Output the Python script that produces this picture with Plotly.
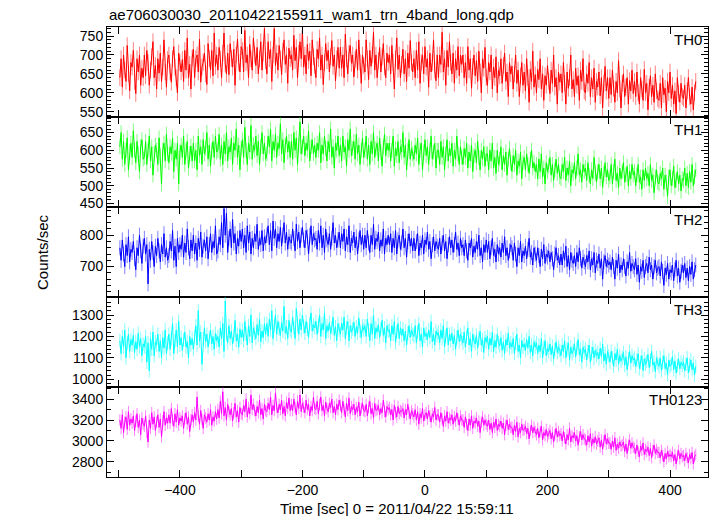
import plotly.graph_objects as go
from plotly.subplots import make_subplots

T_START = -498
T_STEP = 2

TH0 = [640, 690, 615, 700, 660, 630, 725, 650, 605, 680, 668, 712, 630, 598, 690, 655, 700, 620, 665, 640,
       700, 645, 712, 680, 620, 660, 695, 735, 640, 672, 610, 690, 652, 705, 630, 668, 740, 655, 615, 688,
       700, 655, 628, 690, 722, 668, 640, 600, 705, 680, 655, 688, 630, 712, 660, 745, 640, 675, 610, 692,
       715, 640, 690, 700, 655, 742, 628, 668, 680, 705, 650, 622, 730, 690, 660, 712, 645, 758, 670, 700,
       660, 720, 690, 640, 705, 758, 676, 650, 705, 648, 730, 690, 668, 715, 620, 700, 742, 680, 655, 722,
       712, 655, 765, 680, 700, 640, 728, 690, 660, 745, 700, 672, 720, 650, 690, 735, 660, 705, 770, 685,
       650, 735, 690, 715, 630, 700, 770, 672, 705, 660, 725, 690, 648, 710, 740, 675, 700, 625, 718, 690,
       700, 660, 752, 685, 720, 640, 705, 735, 690, 765, 668, 700, 650, 728, 685, 710, 645, 740, 695, 672,
       640, 715, 690, 745, 660, 700, 622, 680, 730, 685, 712, 655, 695, 738, 670, 700, 632, 690, 720, 665,
       720, 665, 700, 640, 755, 690, 650, 705, 725, 678, 700, 642, 688, 715, 660, 740, 680, 625, 700, 672,
       655, 740, 690, 635, 712, 670, 700, 760, 660, 700, 640, 685, 720, 655, 695, 730, 668, 640, 705, 680,
       700, 650, 725, 680, 610, 690, 745, 662, 700, 640, 675, 715, 650, 690, 630, 705, 665, 738, 680, 655,
       690, 640, 712, 660, 735, 625, 680, 700, 650, 722, 668, 690, 615, 705, 655, 680, 740, 660, 632, 700,
       640, 700, 675, 760, 655, 690, 620, 712, 668, 735, 680, 650, 705, 625, 690, 660, 722, 645, 700, 675,
       700, 640, 680, 625, 722, 660, 690, 612, 670, 700, 645, 685, 630, 710, 655, 600, 690, 665, 720, 640,
       620, 680, 655, 700, 610, 668, 640, 695, 600, 660, 645, 690, 625, 672, 705, 630, 655, 590, 680, 650,
       670, 610, 650, 700, 625, 660, 590, 645, 680, 620, 655, 605, 690, 640, 575, 662, 630, 710, 615, 648,
       600, 662, 635, 690, 610, 650, 580, 645, 620, 672, 630, 598, 660, 625, 700, 615, 640, 570, 655, 628,
       650, 600, 680, 625, 570, 655, 612, 640, 700, 610, 635, 590, 665, 620, 645, 580, 660, 630, 690, 605,
       600, 650, 625, 680, 590, 640, 610, 665, 575, 630, 615, 655, 592, 640, 560, 625, 670, 605, 640, 585,
       640, 595, 660, 612, 575, 630, 600, 685, 610, 560, 625, 650, 590, 615, 640, 570, 632, 605, 660, 598,
       630, 590, 655, 600, 570, 640, 610, 580, 662, 600, 625, 555, 615, 645, 590, 620, 575, 650, 605, 585,
       580, 625, 560, 640, 595, 612, 550, 630, 600, 655, 585, 620, 570, 605, 545, 640, 598, 575, 625, 590,
       585, 620, 560, 605, 640, 590, 570, 615, 555, 600, 630]

TH1 = [610, 650, 575, 625, 560, 600, 635, 545, 595, 620, 580, 655, 600, 565, 625, 590, 540, 610, 630, 575,
       580, 625, 560, 600, 640, 570, 610, 530, 590, 615, 600, 560, 635, 585, 505, 600, 620, 570, 645, 590,
       565, 610, 590, 635, 540, 600, 575, 620, 505, 595, 615, 580, 640, 560, 600, 625, 550, 590, 612, 570,
       620, 570, 600, 545, 640, 585, 610, 560, 630, 590, 605, 650, 575, 615, 555, 600, 625, 580, 640, 595,
       600, 645, 575, 615, 560, 625, 590, 650, 570, 610, 595, 635, 560, 620, 600, 660, 580, 615, 545, 605,
       630, 580, 665, 600, 560, 620, 595, 670, 575, 615, 600, 640, 585, 625, 560, 610, 650, 590, 620, 575,
       590, 640, 610, 660, 570, 625, 600, 645, 580, 620, 605, 675, 590, 630, 565, 615, 640, 595, 625, 580,
       625, 575, 650, 600, 635, 560, 615, 680, 590, 610, 640, 585, 620, 600, 655, 570, 610, 630, 590, 615,
       580, 620, 600, 650, 565, 615, 590, 640, 605, 570, 625, 595, 660, 580, 610, 550, 620, 600, 640, 585,
       615, 570, 640, 595, 610, 555, 630, 600, 660, 585, 605, 625, 575, 645, 590, 615, 560, 600, 635, 580,
       600, 640, 575, 615, 560, 625, 590, 650, 580, 605, 620, 570, 635, 595, 555, 610, 645, 585, 620, 600,
       620, 570, 600, 640, 555, 605, 585, 625, 565, 610, 595, 650, 580, 615, 545, 600, 630, 575, 605, 590,
       575, 615, 590, 635, 560, 600, 620, 545, 595, 630, 585, 610, 560, 600, 640, 575, 595, 620, 550, 600,
       600, 560, 625, 580, 610, 545, 590, 630, 570, 605, 585, 620, 555, 600, 575, 640, 590, 560, 610, 580,
       560, 605, 580, 620, 550, 595, 570, 615, 540, 585, 600, 565, 625, 580, 545, 600, 575, 610, 555, 590,
       590, 545, 600, 570, 620, 550, 580, 535, 600, 560, 575, 610, 545, 585, 560, 595, 530, 575, 605, 565,
       540, 585, 560, 600, 530, 570, 555, 595, 520, 565, 580, 545, 590, 560, 535, 575, 600, 550, 565, 540,
       560, 520, 575, 540, 590, 525, 550, 505, 565, 540, 555, 580, 530, 560, 515, 545, 575, 535, 560, 525,
       520, 560, 540, 580, 515, 550, 530, 570, 500, 545, 535, 565, 520, 550, 590, 530, 545, 510, 560, 540,
       550, 515, 565, 530, 505, 545, 520, 580, 535, 510, 540, 560, 520, 550, 495, 535, 565, 525, 545, 515,
       525, 560, 505, 540, 575, 515, 535, 495, 550, 520, 540, 565, 510, 530, 555, 500, 540, 520, 560, 530,
       540, 500, 530, 560, 510, 525, 490, 545, 515, 550, 520, 535, 500, 560, 515, 530, 480, 525, 545, 510,
       505, 535, 520, 550, 490, 530, 510, 470, 525, 545, 500, 520, 555, 495, 515, 540, 505, 530, 485, 520,
       515, 550, 500, 535, 495, 540, 510, 560, 500, 525, 545]

TH2 = [760, 720, 785, 740, 700, 770, 735, 795, 715, 755, 745, 780, 725, 690, 760, 735, 800, 750, 710, 765,
       790, 740, 770, 645, 755, 720, 780, 745, 700, 765, 735, 790, 750, 715, 770, 740, 805, 730, 760, 720,
       735, 780, 750, 815, 720, 765, 700, 790, 745, 770, 755, 800, 730, 775, 745, 820, 760, 725, 785, 750,
       800, 740, 775, 720, 790, 755, 810, 730, 765, 785, 750, 795, 725, 770, 805, 745, 780, 760, 830, 740,
       750, 795, 770, 840, 760, 885, 800, 870, 745, 790, 820, 760, 850, 775, 805, 740, 790, 765, 815, 780,
       820, 760, 800, 745, 830, 775, 810, 740, 790, 760, 805, 780, 835, 755, 790, 770, 815, 750, 795, 775,
       800, 830, 770, 815, 750, 845, 790, 820, 760, 805, 780, 825, 765, 800, 840, 775, 810, 755, 795, 780,
       775, 820, 790, 750, 835, 780, 810, 760, 800, 825, 785, 760, 815, 795, 740, 800, 830, 770, 805, 785,
       790, 755, 815, 775, 830, 760, 800, 745, 820, 785, 770, 805, 755, 790, 840, 775, 800, 760, 785, 810,
       760, 805, 780, 820, 750, 795, 770, 830, 745, 790, 775, 810, 760, 795, 740, 785, 815, 770, 800, 755,
       800, 760, 815, 775, 745, 800, 770, 835, 755, 790, 780, 810, 750, 785, 765, 820, 740, 790, 770, 800,
       770, 805, 745, 790, 760, 815, 740, 785, 800, 755, 775, 820, 760, 790, 730, 780, 805, 765, 790, 750,
       790, 750, 780, 805, 735, 775, 760, 800, 740, 785, 770, 810, 755, 780, 725, 770, 795, 750, 780, 765,
       755, 790, 740, 775, 800, 750, 780, 725, 770, 795, 760, 785, 745, 770, 810, 755, 775, 735, 790, 760,
       770, 735, 785, 750, 720, 775, 760, 790, 730, 765, 745, 780, 755, 800, 735, 760, 715, 770, 745, 785,
       745, 780, 725, 760, 790, 735, 755, 715, 770, 740, 760, 730, 775, 745, 795, 735, 760, 720, 750, 770,
       760, 720, 775, 740, 700, 760, 735, 780, 715, 750, 735, 765, 725, 755, 790, 730, 745, 705, 760, 740,
       720, 760, 735, 700, 755, 725, 770, 710, 740, 730, 750, 715, 745, 725, 690, 740, 760, 720, 735, 705,
       740, 705, 750, 720, 765, 700, 735, 690, 745, 720, 710, 735, 700, 745, 715, 760, 725, 695, 730, 715,
       700, 735, 715, 750, 690, 725, 705, 745, 680, 720, 710, 740, 695, 725, 660, 715, 735, 700, 720, 705,
       715, 690, 730, 700, 660, 720, 695, 740, 680, 705, 690, 725, 700, 670, 715, 695, 745, 685, 710, 700,
       690, 725, 675, 705, 650, 700, 685, 720, 665, 700, 710, 680, 730, 690, 705, 660, 700, 720, 680, 695,
       700, 670, 715, 685, 640, 695, 675, 710, 660, 690, 680, 705, 655, 690, 720, 670, 695, 650, 685, 705,
       680, 710, 665, 695, 655, 700, 675, 715, 660, 690, 705]

TH3 = [1180, 1120, 1200, 1150, 1230, 1100, 1170, 1210, 1130, 1185, 1160, 1205, 1125, 1175, 1140, 1215, 1150, 1190, 1110, 1165,
       1150, 1200, 1080, 1170, 1040, 1190, 1140, 1220, 1110, 1175, 1160, 1210, 1130, 1180, 1100, 1195, 1145, 1230, 1120, 1170,
       1210, 1140, 1190, 1260, 1120, 1180, 1230, 1150, 1270, 1160, 1195, 1135, 1185, 1220, 1150, 1175, 1100, 1200, 1160, 1190,
       1140, 1200, 1250, 1160, 1320, 1180, 1220, 1070, 1190, 1240, 1175, 1210, 1150, 1195, 1230, 1165, 1200, 1140, 1215, 1180,
       1200, 1150, 1240, 1190, 1260, 1130, 1365, 1210, 1170, 1250, 1190, 1225, 1165, 1200, 1275, 1180, 1210, 1150, 1235, 1195,
       1230, 1180, 1270, 1210, 1160, 1250, 1200, 1300, 1170, 1240, 1215, 1190, 1255, 1205, 1280, 1175, 1225, 1195, 1260, 1210,
       1260, 1200, 1280, 1230, 1320, 1190, 1250, 1300, 1210, 1270, 1235, 1205, 1265, 1225, 1340, 1215, 1245, 1190, 1275, 1230,
       1220, 1290, 1240, 1190, 1330, 1250, 1210, 1280, 1230, 1300, 1245, 1215, 1270, 1235, 1195, 1260, 1310, 1225, 1255, 1240,
       1270, 1210, 1250, 1300, 1200, 1260, 1230, 1310, 1190, 1250, 1225, 1265, 1215, 1240, 1290, 1205, 1245, 1180, 1260, 1230,
       1210, 1260, 1230, 1290, 1190, 1240, 1270, 1180, 1250, 1220, 1235, 1265, 1200, 1245, 1215, 1285, 1225, 1195, 1250, 1230,
       1250, 1200, 1280, 1230, 1180, 1260, 1210, 1300, 1190, 1240, 1220, 1255, 1195, 1235, 1275, 1205, 1240, 1170, 1250, 1225,
       1230, 1180, 1250, 1210, 1270, 1170, 1220, 1260, 1190, 1240, 1205, 1235, 1180, 1225, 1160, 1215, 1250, 1195, 1230, 1210,
       1200, 1250, 1170, 1220, 1260, 1180, 1210, 1150, 1240, 1200, 1215, 1185, 1230, 1195, 1270, 1175, 1210, 1160, 1225, 1205,
       1220, 1170, 1230, 1190, 1250, 1150, 1200, 1240, 1160, 1210, 1180, 1215, 1165, 1205, 1140, 1195, 1230, 1175, 1210, 1190,
       1170, 1220, 1150, 1200, 1240, 1160, 1190, 1130, 1210, 1180, 1165, 1205, 1145, 1190, 1225, 1160, 1185, 1125, 1195, 1175,
       1200, 1140, 1190, 1160, 1220, 1130, 1180, 1150, 1210, 1170, 1155, 1195, 1135, 1175, 1120, 1185, 1160, 1215, 1145, 1170,
       1150, 1190, 1120, 1170, 1210, 1130, 1160, 1100, 1180, 1150, 1165, 1135, 1185, 1145, 1200, 1125, 1160, 1110, 1175, 1150,
       1170, 1120, 1160, 1130, 1190, 1100, 1150, 1180, 1110, 1145, 1130, 1165, 1115, 1155, 1095, 1140, 1175, 1125, 1150, 1135,
       1110, 1160, 1130, 1180, 1100, 1140, 1170, 1090, 1150, 1120, 1135, 1165, 1105, 1145, 1185, 1115, 1140, 1080, 1150, 1125,
       1140, 1090, 1130, 1160, 1080, 1120, 1150, 1100, 1135, 1110, 1125, 1095, 1145, 1105, 1165, 1085, 1120, 1070, 1130, 1110,
       1080, 1130, 1100, 1060, 1120, 1090, 1140, 1070, 1110, 1085, 1100, 1125, 1065, 1105, 1045, 1095, 1130, 1075, 1110, 1090,
       1100, 1060, 1090, 1120, 1050, 1080, 1110, 1040, 1095, 1070, 1085, 1115, 1055, 1090, 1130, 1065, 1080, 1035, 1100, 1075,
       1060, 1100, 1040, 1080, 1110, 1050, 1075, 1020, 1090, 1060, 1070, 1105, 1045, 1085, 1030, 1065, 1095, 1050, 1080, 1065,
       1080, 1040, 1070, 1100, 1030, 1065, 1090, 1045, 1075, 1020, 1060]

TH0123 = [3200, 3120, 3250, 3080, 3180, 3230, 3110, 3280, 3150, 3210, 3170, 3240, 3100, 3190, 3260, 3130, 3200, 3060, 3220, 3160,
          3140, 3240, 3080, 2990, 3200, 3120, 3270, 3160, 3230, 3100, 3180, 3250, 3130, 3210, 3040, 3190, 3280, 3150, 3220, 3170,
          3250, 3170, 3310, 3200, 3140, 3260, 3180, 3300, 3150, 3220, 3190, 3240, 3120, 3210, 3270, 3160, 3230, 3090, 3200, 3250,
          3180, 3270, 3200, 3420, 3240, 3160, 3290, 3210, 3120, 3250, 3220, 3180, 3260, 3200, 3300, 3150, 3230, 3190, 3280, 3210,
          3300, 3220, 3380, 3260, 3470, 3240, 3320, 3200, 3350, 3280, 3250, 3310, 3190, 3270, 3360, 3230, 3290, 3180, 3320, 3260,
          3250, 3340, 3280, 3400, 3230, 3320, 3260, 3440, 3300, 3350, 3290, 3240, 3330, 3270, 3390, 3250, 3310, 3210, 3350, 3290,
          3280, 3360, 3300, 3420, 3250, 3340, 3290, 3460, 3320, 3270, 3350, 3300, 3390, 3260, 3330, 3240, 3370, 3310, 3410, 3290,
          3350, 3290, 3400, 3320, 3250, 3380, 3310, 3440, 3280, 3360, 3320, 3270, 3390, 3300, 3350, 3240, 3330, 3290, 3420, 3310,
          3300, 3380, 3260, 3350, 3420, 3290, 3340, 3240, 3370, 3310, 3280, 3360, 3320, 3400, 3270, 3330, 3250, 3350, 3300, 3390,
          3340, 3270, 3380, 3300, 3230, 3360, 3290, 3410, 3260, 3330, 3300, 3350, 3250, 3320, 3280, 3370, 3240, 3310, 3360, 3290,
          3280, 3350, 3240, 3320, 3380, 3260, 3310, 3220, 3360, 3290, 3300, 3340, 3250, 3310, 3270, 3390, 3280, 3230, 3330, 3300,
          3320, 3250, 3300, 3200, 3340, 3270, 3230, 3330, 3260, 3290, 3280, 3310, 3220, 3300, 3250, 3350, 3270, 3210, 3290, 3260,
          3230, 3300, 3200, 3280, 3160, 3260, 3220, 3310, 3190, 3250, 3270, 3210, 3290, 3240, 3180, 3260, 3230, 3320, 3200, 3250,
          3250, 3180, 3270, 3210, 3140, 3240, 3190, 3280, 3170, 3220, 3200, 3250, 3160, 3230, 3190, 3270, 3210, 3150, 3240, 3200,
          3200, 3130, 3230, 3160, 3100, 3210, 3150, 3240, 3120, 3190, 3170, 3220, 3140, 3190, 3080, 3180, 3230, 3150, 3200, 3160,
          3140, 3200, 3110, 3170, 3080, 3180, 3130, 3210, 3100, 3160, 3140, 3190, 3120, 3170, 3060, 3150, 3200, 3110, 3160, 3130,
          3130, 3060, 3150, 3090, 3180, 3040, 3120, 3080, 3160, 3100, 3110, 3140, 3070, 3120, 3020, 3100, 3150, 3080, 3130, 3090,
          3060, 3120, 3030, 3090, 3140, 3010, 3080, 3050, 3110, 3040, 3070, 3100, 3020, 3080, 2990, 3060, 3120, 3040, 3090, 3050,
          3070, 3000, 3090, 3030, 2970, 3060, 3010, 3120, 2990, 3050, 3030, 3080, 3000, 3050, 2960, 3040, 3090, 3010, 3060, 3020,
          3010, 2960, 3050, 2990, 3070, 2950, 3020, 2980, 3040, 2970, 3000, 3030, 2940, 3010, 2920, 3000, 3060, 2970, 3020, 2980,
          2980, 2920, 3000, 2940, 3030, 2910, 2970, 2930, 2990, 2950, 2960, 2990, 2900, 2970, 2880, 2960, 3010, 2930, 2980, 2940,
          2930, 2880, 2960, 2900, 2850, 2950, 2910, 2980, 2870, 2920, 2900, 2940, 2860, 2930, 2840, 2910, 2960, 2880, 2920, 2890,
          2890, 2840, 2910, 2860, 2800, 2880, 2830, 2900, 2850, 2870, 2850, 2890, 2810, 2870, 2780, 2860, 2910, 2830, 2880, 2850,
          2860, 2810, 2880, 2840, 2790, 2870, 2830, 2890, 2780, 2850, 2870]

SERIES = [TH0, TH1, TH2, TH3, TH0123]
NAMES = ["TH0", "TH1", "TH2", "TH3", "TH0123"]
ERRORS = [22, 21, 24, 32, 55]
COLORS = ["#ff0000", "#00ff00", "#0000ff", "#00ffff", "#ff00ff"]
ERR_COLORS = ["rgba(255,0,0,0.5)", "rgba(0,255,0,0.5)", "rgba(0,0,255,0.5)",
              "rgba(0,255,255,0.5)", "rgba(255,0,255,0.5)"]
Y_RANGES = [[536, 774], [440, 694], [603, 890], [964, 1384], [2655, 3516]]
Y_DTICK = [50, 50, 100, 100, 200]
Y_MINOR = [10, 10, 20, 20, 100]
X_RANGE = [-519, 462]

TITLE = "ae706030030_20110422155911_wam1_trn_4band_long.qdp"
XLABEL = "Time [sec] 0 = 2011/04/22 15:59:11"
YLABEL = "Counts/sec"

FONT = "Liberation Sans, Arial, Helvetica, sans-serif"

fig = make_subplots(rows=5, cols=1, shared_xaxes=True, vertical_spacing=0)

for i, (vals, name) in enumerate(zip(SERIES, NAMES)):
    times = [T_START + k * T_STEP for k in range(len(vals))]
    fig.add_trace(go.Scatter(
        x=times, y=vals, mode="lines", name=name,
        line=dict(color=COLORS[i], width=1),
        error_y=dict(type="constant", value=ERRORS[i], color=ERR_COLORS[i],
                     thickness=1, width=0),
        showlegend=False,
    ), row=i + 1, col=1)

axis_common = dict(showline=True, linecolor="black", linewidth=1, mirror="allticks",
                   ticks="inside", tickcolor="black", ticklen=7, tickwidth=1,
                   showgrid=False, zeroline=False,
                   tickfont=dict(family=FONT, size=14, color="black"))

for i in range(5):
    r = i + 1
    fig.update_yaxes(range=Y_RANGES[i], dtick=Y_DTICK[i],
                     minor=dict(dtick=Y_MINOR[i], ticks="inside", ticklen=4,
                                tickcolor="black", showgrid=False),
                     row=r, col=1, **axis_common)
    fig.update_xaxes(range=X_RANGE, dtick=200,
                     minor=dict(dtick=100, ticks="inside", ticklen=7,
                                tickcolor="black", showgrid=False),
                     showticklabels=(r == 5), row=r, col=1, **axis_common)
    suffix = "" if r == 1 else str(r)
    fig.add_annotation(text=NAMES[i], xref=f"x{suffix} domain", yref=f"y{suffix} domain",
                       x=0.993, y=1, xanchor="right", yanchor="top", yshift=-2,
                       showarrow=False, font=dict(family=FONT, size=15, color="black"))

fig.add_annotation(text=TITLE, xref="paper", yref="paper", x=0, y=1,
                   xanchor="left", yanchor="bottom", yshift=2, showarrow=False,
                   font=dict(family=FONT, size=15, color="black"))
fig.add_annotation(text=XLABEL, xref="paper", yref="paper", x=0.483, y=0,
                   xanchor="center", yanchor="top", yshift=-21, showarrow=False,
                   font=dict(family=FONT, size=15, color="black"))
fig.add_annotation(text=YLABEL, xref="paper", yref="paper", x=0, y=0.5,
                   xanchor="center", yanchor="middle", xshift=-65, textangle=-90,
                   showarrow=False, font=dict(family=FONT, size=15, color="black"))

fig.update_layout(width=717, height=516, margin=dict(l=107, r=9, t=27, b=39),
                  plot_bgcolor="white", paper_bgcolor="white",
                  font=dict(family=FONT, size=14, color="black"))

fig.write_html("out.html", config={"displayModeBar": False})

with open("out.html", "r", encoding="utf-8") as f:
    html = f.read()
html = html.replace("<head>", "<head><style>html,body{margin:0;padding:0;overflow:hidden;}</style>", 1)
with open("out.html", "w", encoding="utf-8") as f:
    f.write(html)
